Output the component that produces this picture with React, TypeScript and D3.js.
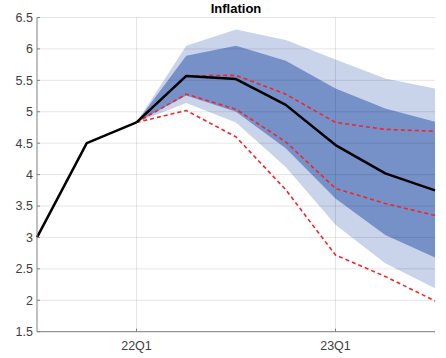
import React from "react";
import * as d3 from "d3";

const quarters = ["21Q3", "21Q4", "22Q1", "22Q2", "22Q3", "22Q4", "23Q1", "23Q2", "23Q3"];
const xTickLabels = ["22Q1", "23Q1"];
const yTicks = [1.5, 2, 2.5, 3, 3.5, 4, 4.5, 5, 5.5, 6, 6.5];

const history = [3.0, 4.5, 4.83];
const median = [4.83, 5.57, 5.52, 5.11, 4.47, 4.02, 3.75];
const outerUpper = [4.83, 6.05, 6.31, 6.14, 5.83, 5.53, 5.37];
const outerLower = [4.83, 5.14, 4.83, 4.12, 3.2, 2.59, 2.19];
const innerUpper = [4.83, 5.89, 6.05, 5.81, 5.37, 5.05, 4.84];
const innerLower = [4.83, 5.26, 5.0, 4.42, 3.62, 3.04, 2.68];
const redUpper = [4.83, 5.57, 5.58, 5.28, 4.83, 4.72, 4.69];
const redMid = [4.83, 5.28, 5.04, 4.52, 3.78, 3.54, 3.35];
const redLow = [4.83, 5.02, 4.6, 3.76, 2.72, 2.38, 1.99];

const W = 446;
const H = 358;
const left = 37;
const right = 435;
const top = 17.5;
const bottom = 331.7;

export default function App() {
  const x = d3.scaleLinear().domain([0, quarters.length - 1]).range([left, right]);
  const y = d3.scaleLinear().domain([1.5, 6.5]).range([bottom, top]);
  const fcStart = quarters.indexOf("22Q1");

  const line = d3
    .line<number>()
    .x((_, i) => x(i))
    .y((d) => y(d));
  const fline = d3
    .line<number>()
    .x((_, i) => x(i + fcStart))
    .y((d) => y(d));
  const band = (up: number[], lo: number[]) =>
    d3
      .area<number>()
      .x((_, i) => x(i + fcStart))
      .y0((_, i) => y(lo[i]))
      .y1((d) => y(d))(up) || "";

  const font = "'Liberation Sans', Arial, Helvetica, sans-serif";

  return (
    <svg
      width={W}
      height={H}
      style={{ position: "absolute", left: 0, top: 0, background: "#fff" }}
      fontFamily={font}
    >
      <path d={band(outerUpper, outerLower)} fill="#c9d3ea" />
      <path d={band(innerUpper, innerLower)} fill="#7690c8" />
      {/* grid */}
      {yTicks.map((t) => (
        <line key={t} x1={left} x2={right} y1={y(t)} y2={y(t)} stroke="#000" strokeOpacity={0.1} strokeWidth={1} />
      ))}
      {xTickLabels.map((q) => (
        <line
          key={q}
          x1={x(quarters.indexOf(q))}
          x2={x(quarters.indexOf(q))}
          y1={top}
          y2={bottom}
          stroke="#000"
          strokeOpacity={0.1}
          strokeWidth={1}
        />
      ))}
      {/* red dashed */}
      {[redUpper, redMid, redLow].map((s, k) => (
        <path key={k} d={fline(s) || ""} fill="none" stroke="#f0262a" strokeWidth={1.6} strokeDasharray="4,3" />
      ))}
      {/* black lines */}
      <path d={line(history) || ""} fill="none" stroke="#000" strokeWidth={2.5} strokeLinejoin="round" />
      <path d={fline(median) || ""} fill="none" stroke="#000" strokeWidth={2.5} strokeLinejoin="round" />
      {/* axes */}
      <line x1={left} x2={left} y1={top} y2={bottom} stroke="#808080" strokeWidth={1} />
      <line x1={left} x2={right} y1={bottom} y2={bottom} stroke="#808080" strokeWidth={1} />
      {yTicks.map((t) => (
        <g key={t}>
          <line x1={left} x2={left + 3} y1={y(t)} y2={y(t)} stroke="#808080" />
          <text x={left - 4} y={y(t)} dy="0.35em" textAnchor="end" fontSize={12.5} fill="#404040">
            {t}
          </text>
        </g>
      ))}
      {xTickLabels.map((q) => (
        <g key={q}>
          <line
            x1={x(quarters.indexOf(q))}
            x2={x(quarters.indexOf(q))}
            y1={bottom}
            y2={bottom - 3}
            stroke="#808080"
          />
          <text x={x(quarters.indexOf(q))} y={bottom + 18.5} textAnchor="middle" fontSize={12.5} fill="#404040">
            {q}
          </text>
        </g>
      ))}
      <text x={(left + right) / 2} y={13} textAnchor="middle" fontSize={13} fontWeight="bold" fill="#000">
        Inflation
      </text>
    </svg>
  );
}
